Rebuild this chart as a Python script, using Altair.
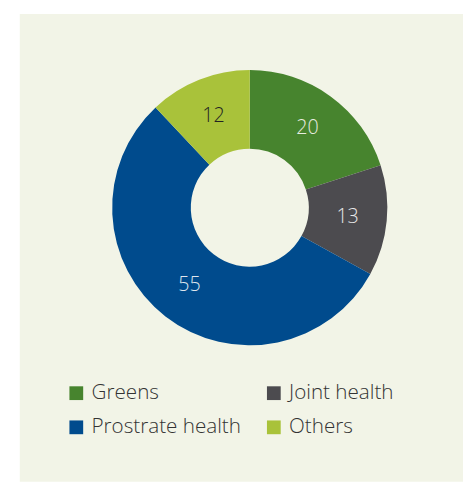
import altair as alt
import pandas as pd

categories = ["Greens", "Joint health", "Prostrate health", "Others"]
values = [20, 13, 55, 12]
colors = ["#47842e", "#4c4b4f", "#004b8d", "#a9c23a"]
label_colors = ["#e8ece0", "#e8e8e8", "#dfe6ee", "#222222"]

df = pd.DataFrame({
    "category": categories,
    "value": values,
    "order": list(range(len(categories))),
    "label_color": label_colors,
})

FONT = "Open Sans"
BG = "#f2f4e7"
CX, CY = 234, 197

base = alt.Chart(df).encode(
    theta=alt.Theta("value:Q", stack=True),
    order=alt.Order("order:Q", sort="ascending"),
)

arcs = base.mark_arc(outerRadius=140, innerRadius=60).encode(
    x=alt.value(CX),
    y=alt.value(CY),
    color=alt.Color(
        "category:N",
        scale=alt.Scale(domain=categories, range=colors),
        sort=categories,
        legend=alt.Legend(
            title=None,
            orient="none",
            direction="horizontal",
            legendX=47,
            legendY=375,
            columns=2,
            columnPadding=22,
            rowPadding=13,
            symbolType="square",
            symbolSize=196,
            symbolStrokeWidth=0,
            labelFont=FONT,
            labelFontSize=21,
            labelFontWeight=300,
            labelColor="#333333",
            labelOffset=5,
            labelLimit=300,
        ),
    ),
)

labels = base.mark_text(radius=100, font=FONT, fontSize=20, fontWeight=300).encode(
    x=alt.value(CX),
    y=alt.value(CY),
    text=alt.Text("value:Q"),
    color=alt.Color("label_color:N", scale=None),
)

chart = (
    alt.layer(arcs, labels)
    .properties(
        width=451,
        height=476,
        padding={"left": 12, "top": 2, "right": 0, "bottom": 0},
        background="white",
        autosize=alt.AutoSizeParams(type="none"),
    )
    .configure_view(fill=BG, stroke=None)
)

chart.save("out.html", embed_options={"renderer": "svg", "actions": False})
